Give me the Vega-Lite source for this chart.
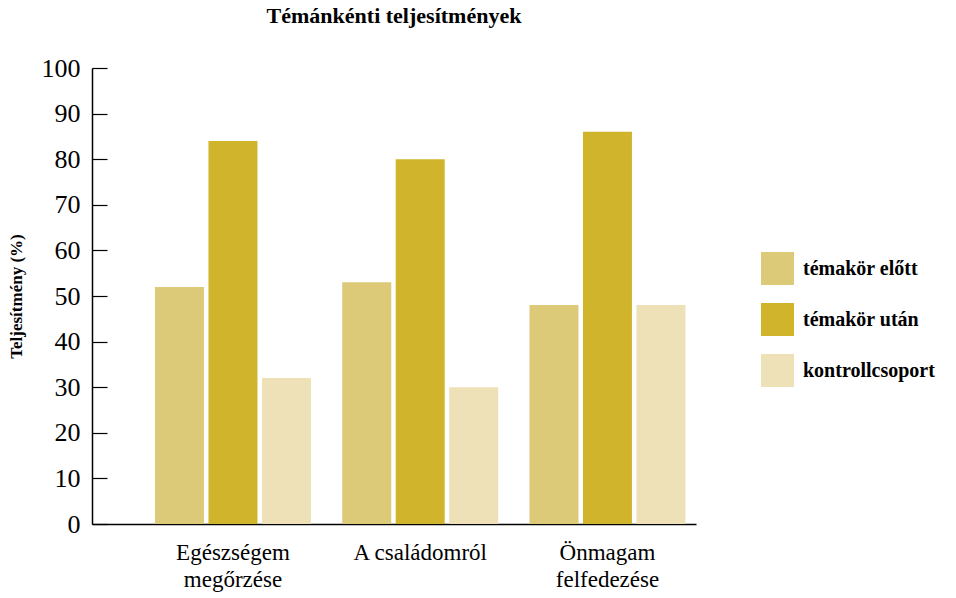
{
  "$schema": "https://vega.github.io/schema/vega-lite/v6.json",
  "width": 604,
  "height": 456,
  "autosize": {"type": "none"},
  "padding": {"left": 92, "top": 68, "right": 260, "bottom": 74},
  "background": "white",
  "title": {
    "text": "Témánkénti teljesítmények",
    "font": "Liberation Serif",
    "fontSize": 22,
    "fontWeight": "bold",
    "color": "black",
    "anchor": "middle",
    "offset": 27
  },
  "data": {
    "values": [
      {"tema": "Egészségem megőrzése", "csoport": "témakör előtt", "ertek": 52},
      {"tema": "Egészségem megőrzése", "csoport": "témakör után", "ertek": 84},
      {"tema": "Egészségem megőrzése", "csoport": "kontrollcsoport", "ertek": 32},
      {"tema": "A családomról", "csoport": "témakör előtt", "ertek": 53},
      {"tema": "A családomról", "csoport": "témakör után", "ertek": 80},
      {"tema": "A családomról", "csoport": "kontrollcsoport", "ertek": 30},
      {"tema": "Önmagam felfedezése", "csoport": "témakör előtt", "ertek": 48},
      {"tema": "Önmagam felfedezése", "csoport": "témakör után", "ertek": 86},
      {"tema": "Önmagam felfedezése", "csoport": "kontrollcsoport", "ertek": 48}
    ]
  },
  "mark": {"type": "bar"},
  "encoding": {
    "x": {
      "field": "tema",
      "type": "nominal",
      "sort": null,
      "scale": {"paddingInner": 0.1, "paddingOuter": 0.1628, "align": 0.93},
      "axis": {
        "title": null,
        "ticks": false,
        "labelAngle": 0,
        "labelExpr": "datum.label == 'A családomról' ? datum.label : split(datum.label, ' ')",
        "labelFont": "Liberation Serif",
        "labelFontSize": 23,
        "labelLineHeight": 27,
        "labelColor": "black",
        "labelPadding": 17,
        "domainColor": "black",
        "domainWidth": 1.5
      }
    },
    "xOffset": {
      "field": "csoport",
      "type": "nominal",
      "sort": ["témakör előtt", "témakör után", "kontrollcsoport"],
      "scale": {"paddingInner": 0.084, "paddingOuter": 0.117}
    },
    "y": {
      "field": "ertek",
      "type": "quantitative",
      "scale": {"domain": [0, 100], "nice": false},
      "axis": {
        "title": "Teljesítmény (%)",
        "titleFont": "Liberation Serif",
        "titleFontSize": 17,
        "titleFontWeight": "bold",
        "titleColor": "black",
        "titleX": -67,
        "titleY": 228,
        "titleAngle": -90,
        "values": [0, 10, 20, 30, 40, 50, 60, 70, 80, 90, 100],
        "grid": false,
        "labelFont": "Liberation Serif",
        "labelFontSize": 26,
        "labelColor": "black",
        "tickSize": -15,
        "tickColor": "black",
        "tickWidth": 1.2,
        "labelPadding": 27,
        "domainColor": "black",
        "domainWidth": 1.5
      }
    },
    "color": {
      "field": "csoport",
      "type": "nominal",
      "sort": ["témakör előtt", "témakör után", "kontrollcsoport"],
      "scale": {
        "domain": ["témakör előtt", "témakör után", "kontrollcsoport"],
        "range": ["#DDCA79", "#D0B52C", "#EEE1B7"]
      },
      "legend": {
        "title": null,
        "orient": "none",
        "legendX": 669,
        "legendY": 184,
        "padding": 0,
        "symbolType": "square",
        "symbolSize": 1089,
        "symbolStrokeWidth": 0,
        "symbolOpacity": 1,
        "labelFont": "Liberation Serif",
        "labelFontSize": 20,
        "labelFontWeight": "bold",
        "labelColor": "black",
        "labelOffset": 9,
        "rowPadding": 18
      }
    }
  },
  "config": {"view": {"stroke": null}}
}
